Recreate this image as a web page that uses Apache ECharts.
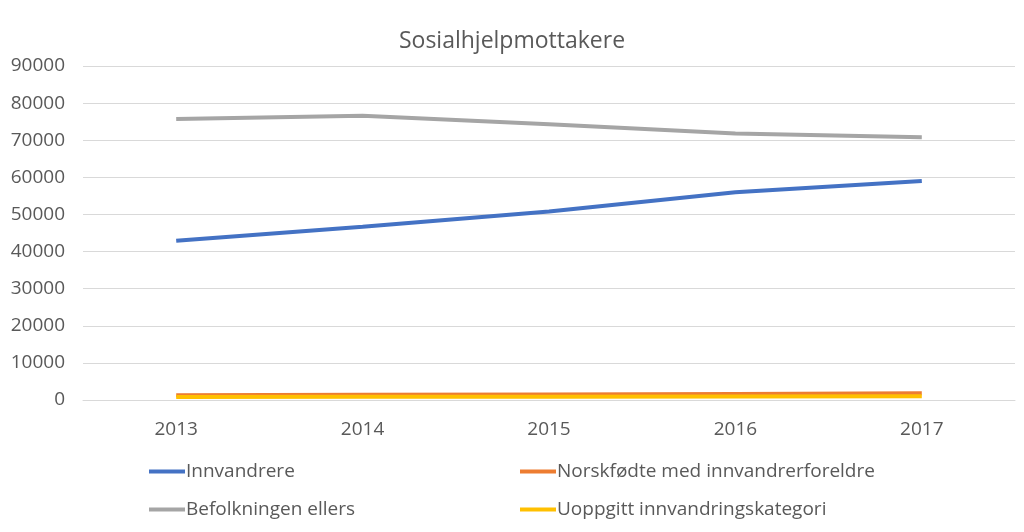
<!DOCTYPE html>
<html>
<head>
<meta charset="utf-8">
<script src="https://cdn.jsdelivr.net/npm/echarts@6/dist/echarts.min.js"></script>
<style>
  html, body { margin: 0; padding: 0; background: #fff; }
  #chart { width: 1024px; height: 532px; }
</style>
</head>
<body>
<div id="chart"></div>
<script>
// data
var years = ['2013', '2014', '2015', '2016', '2017'];
var innvandrere = [42900, 46700, 50800, 56000, 59000];
var norskfodte = [1300, 1400, 1500, 1650, 1800];
var befolkningen = [75700, 76600, 74300, 71800, 70800];
var uoppgitt = [800, 850, 900, 950, 1000];

var font = '"Open Sans", "Noto Sans", sans-serif';
var textCol = '#595959';

var myChart = echarts.init(document.getElementById('chart'));
var option = {
    animation: false,
    title: {
        text: 'Sosialhjelpmottakere',
        left: 'center',
        top: 25,
        textStyle: { fontFamily: font, fontSize: 23, fontWeight: 'normal', color: textCol }
    },
    color: ['#4472C4', '#ED7D31', '#A5A5A5', '#FFC000'],
    grid: {
        left: 83,
        right: 9,
        top: 66,
        bottom: 132
    },
    legend: [
        {
            orient: 'vertical',
            left: 144,
            top: 457,
            itemGap: 19,
            itemWidth: 36,
            itemHeight: 4,
            icon: 'rect',
            data: ['Innvandrere', 'Befolkningen ellers'],
            textStyle: { fontFamily: font, fontSize: 19, color: textCol, padding: [0, 0, 0, -4] }
        },
        {
            orient: 'vertical',
            left: 515,
            top: 457,
            itemGap: 19,
            itemWidth: 36,
            itemHeight: 4,
            icon: 'rect',
            data: ['Norskfødte med innvandrerforeldre', 'Uoppgitt innvandringskategori'],
            textStyle: { fontFamily: font, fontSize: 19, color: textCol, padding: [0, 0, 0, -4] }
        }
    ],
    xAxis: {
        type: 'category',
        data: years,
        boundaryGap: true,
        axisLine: { lineStyle: { color: '#d9d9d9', width: 1 } },
        axisTick: { show: false },
        axisLabel: { fontFamily: font, fontSize: 19, color: textCol, margin: 20 }
    },
    yAxis: {
        type: 'value',
        min: 0,
        max: 90000,
        interval: 10000,
        axisLine: { show: false },
        axisTick: { show: false },
        splitLine: { lineStyle: { color: '#d9d9d9', width: 1 } },
        axisLabel: {
            fontFamily: font, fontSize: 19, color: textCol, margin: 18,
            formatter: function (v) { return String(v); }
        }
    },
    series: [
        { name: 'Innvandrere', type: 'line', data: innvandrere, showSymbol: false, lineStyle: { width: 4 } },
        { name: 'Norskfødte med innvandrerforeldre', type: 'line', data: norskfodte, showSymbol: false, lineStyle: { width: 4 } },
        { name: 'Befolkningen ellers', type: 'line', data: befolkningen, showSymbol: false, lineStyle: { width: 4 } },
        { name: 'Uoppgitt innvandringskategori', type: 'line', data: uoppgitt, showSymbol: false, lineStyle: { width: 4 } }
    ]
};
myChart.setOption(option);
</script>
</body>
</html>
